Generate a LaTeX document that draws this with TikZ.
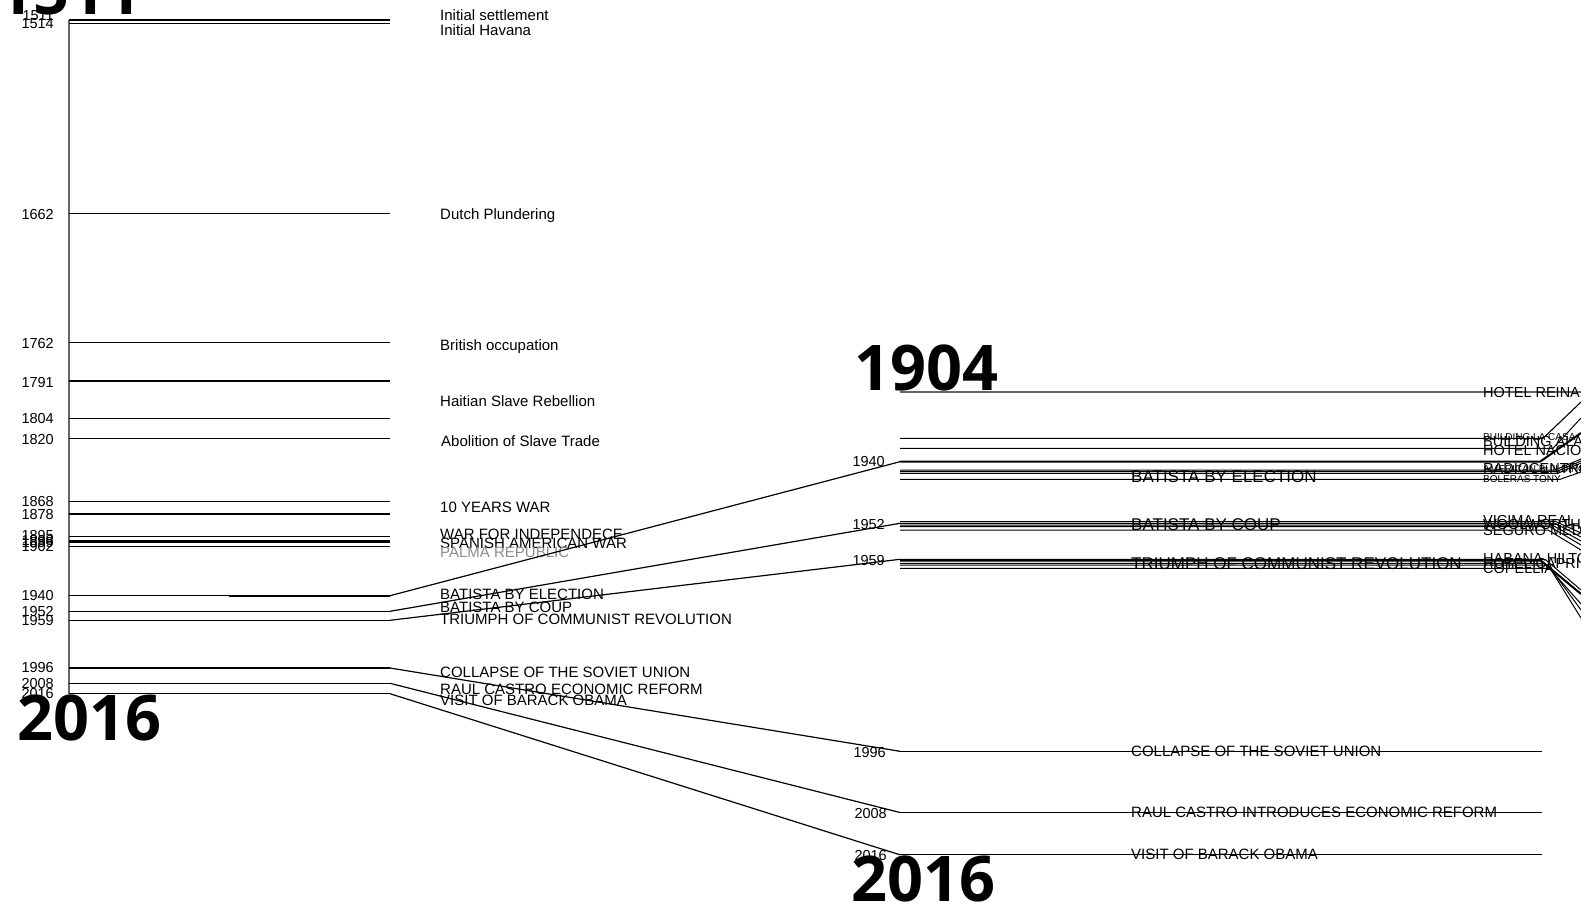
\documentclass[tikz,border=0pt]{standalone}
\usepackage{fontspec}
\setmainfont{Liberation Sans}
\newfontfamily\bigyearfont{Open Sans}
\begin{document}
\begin{tikzpicture}[x=1pt,y=-1pt,
  ln/.style={line width=1.2pt, black},
  yr/.style={anchor=east, inner sep=0pt, font=\fontsize{14.5}{14.5}\selectfont, text height=10.4pt, text depth=0pt},
  ryr/.style={anchor=east, inner sep=0pt, font=\fontsize{14.5}{14.5}\selectfont, text height=10.4pt, text depth=0pt},
  ev/.style={anchor=west, inner sep=0pt, font=\fontsize{15}{15}\selectfont, text height=10.8pt, text depth=0pt},
  evbig/.style={anchor=west, inner sep=0pt, font=\fontsize{17}{17}\selectfont, text height=12.2pt, text depth=0pt},
  evsm/.style={anchor=west, inner sep=0pt, font=\fontsize{14.5}{14.5}\selectfont, text height=10.4pt, text depth=0pt},
  evxs/.style={anchor=west, inner sep=0pt, font=\fontsize{10}{10}\selectfont, text height=7.2pt, text depth=0pt},
  bigyr/.style={anchor=base west, inner sep=0pt, font=\bigyearfont\bfseries\fontsize{63}{63}\selectfont}]
\useasboundingbox (0,0) rectangle (1581,904);

% ---------- left column ----------
\coordinate (axTop) at (69,20);
\coordinate (axBot) at (69,693.7);
\draw[line width=1.5pt, black!60] (axTop) -- (axBot);

\foreach \n/\yl/\ylab/\t in {
  a/20/15/1511, b/23.3/23.5/1514, c/213.7/214.7/1662, d/342.7/343/1762,
  e/381/382/1791, f/418.3/418.5/1804, g/438.5/439/1820, h/501.5/501/1868,
  i/514/514/1878, j/536.3/535/1895, k/540.3/540/1898, l/542/542/1899,
  m/546.3/546.5/1902, n/595.7/595.7/1940, o/611.3/611/1952,
  p/620.3/620.5/1959, q/668/667.5/1996, r/683.3/683/2008, s/693.7/693/2016} {
  \coordinate (La\n) at (69,\yl);
  \coordinate (Lb\n) at (390,\yl);
  \draw[ln] (La\n) -- (Lb\n);
  \node[yr] (Ly\n) at (54,\ylab) {\t};
}
\coordinate (Lmid) at (229,595.7);
\draw[line width=1.8pt] (Lmid) -- (Lbn);

\node[ev] (e1) at (440,15.3) {Initial settlement};
\node[ev] (e2) at (440,30.2) {Initial Havana};
\node[ev] (e3) at (440,214.2) {Dutch Plundering};
\node[ev] (e4) at (440,345.5) {British occupation};
\node[ev] (e5) at (440,401.5) {Haitian Slave Rebellion};
\node[ev] (e6) at (441,440.8) {Abolition of Slave Trade};
\node[ev] (e7) at (440,507.5) {10 YEARS WAR};
\node[ev] (e8) at (440,534) {WAR FOR INDEPENDECE};
\node[ev] (e9) at (440,543) {SPANISH AMERICAN WAR};
\node[ev, text=black!45] (e10) at (440,551.8) {PALMA REPUBLIC};
\node[ev] (e11) at (440,594.5) {BATISTA BY ELECTION};
\node[ev] (e12) at (440,607.5) {BATISTA BY COUP};
\node[ev] (e13) at (440,619.5) {TRIUMPH OF COMMUNIST REVOLUTION};
\node[ev] (e14) at (440,672.5) {COLLAPSE OF THE SOVIET UNION};
\node[ev] (e15) at (440,689.5) {RAUL CASTRO ECONOMIC REFORM};
\node[ev] (e16) at (440,700) {VISIT OF BARACK OBAMA};

% big years left
\node[bigyr] (big1511) at (-3,15) {1511};
\node[bigyr] (big2016a) at (17,740) {2016};

% ---------- right column ----------
\node[bigyr] (big1904) at (854,390) {1904};
\node[bigyr] (big2016b) at (851,901) {2016};

\coordinate (R1904a) at (900,392);
\coordinate (R1904b) at (1581,392);
\draw[line width=1.1pt, black!60] (R1904a) -- (R1904b);

% upper clusters: horizontal part then fan-out to the edge
\foreach \n/\y/\xe/\ye/\w in {
  A/438.3/1543/402/1.1, B/448.3/1553/418/1, C/461.7/1540/433/2,
  D/470/1555/459/1, E/471.7/1556/461/1, F/473.3/1558/463/1, G/479.3/1560/472/1,
  H/521.7/1556/533/1, I/523.3/1555/537/1, J/525/1552/541/1, K/526.7/1550/545/1, L/530/1548/550/1,
  M/559.3/1545/590/1, N/560.7/1541/594/2, O/563.3/1545/604/1, P/565/1548/610/1, Q/568.3/1550/618/1} {
  \coordinate (Ra\n) at (900,\y);
  \coordinate (Rb\n) at (\xe,\y);
  \coordinate (Rc\n) at (1581,\ye);
  \draw[line width=\w pt] (Ra\n) -- (Rb\n) -- (Rc\n);
}

% lower lines
\foreach \n/\y in {S/751.3, T/812.5, U/854.8} {
  \coordinate (Ra\n) at (900,\y);
  \coordinate (Rb\n) at (1542,\y);
  \draw[ln] (Ra\n) -- (Rb\n);
}

% connectors between the columns
\draw[ln] (Lbn) -- (RaC);
\draw[ln] (Lbo) -- (RaI);
\draw[ln] (Lbp) -- (RaM);
\draw[ln] (Lbq) -- (RaS);
\draw[ln] (Lbr) -- (RaT);
\draw[ln] (Lbs) -- (RaU);

% right year labels
\node[ryr] (ry1) at (885,461.5) {1940};
\node[ryr] (ry2) at (885,524) {1952};
\node[ryr] (ry3) at (885,560.5) {1959};
\node[ryr] (ry4) at (886,752) {1996};
\node[ryr] (ry5) at (887,813.5) {2008};
\node[ryr] (ry6) at (887,855) {2016};

% right middle labels
\node[evbig] (m1) at (1131,476) {BATISTA BY ELECTION};
\node[evbig] (m2) at (1131,524.3) {BATISTA BY COUP};
\node[evbig] (m3) at (1131,563.5) {TRIUMPH OF COMMUNIST REVOLUTION};
\node[ev] (m4) at (1131,751) {COLLAPSE OF THE SOVIET UNION};
\node[ev] (m5) at (1131,812) {RAUL CASTRO INTRODUCES ECONOMIC REFORM};
\node[ev] (m6) at (1131,854) {VISIT OF BARACK OBAMA};

% right edge labels
\node[evsm] (h1) at (1483,392) {HOTEL REINA};
\node[evxs] (h2) at (1483,437) {BUILDING LA CASA};
\node[evsm] (h3) at (1483,441) {BUILDING ALAMAR};
\node[evsm] (h4) at (1483,450.5) {HOTEL NACIONAL};
\node[evsm] (h5) at (1483,468) {RADIOCENTRO};
\node[evxs] (h6) at (1483,469) {AMERICAN BUILDING};
\node[evxs] (h7) at (1483,479) {BOLERAS TONY};
\node[evsm] (h8) at (1483,520) {VICIMA REAL};
\node[evsm] (h9) at (1483,524.5) {WOOLWORTH};
\node[evsm] (h10) at (1483,530.5) {SEGURO MEDICO};
\node[evsm] (h11) at (1483,558) {HABANA HILTON};
\node[evsm] (h12) at (1483,563) {HOTEL CAPRI};
\node[evsm] (h13) at (1483,568) {COPELLIA};
\end{tikzpicture}
\end{document}
